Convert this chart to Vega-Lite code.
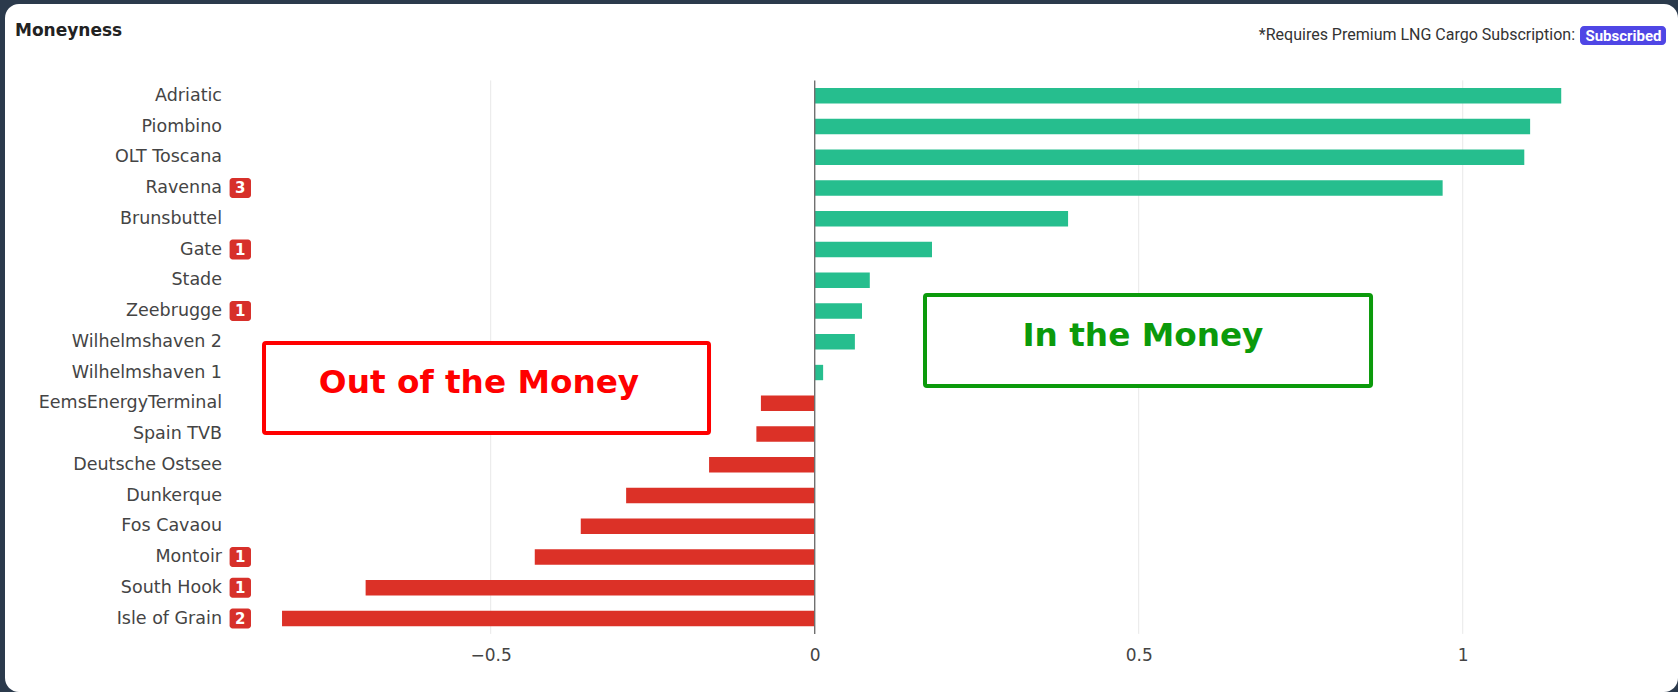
{
  "$schema": "https://vega.github.io/schema/vega-lite/v6.json",
  "width": 1673,
  "height": 688,
  "autosize": {"type": "none"},
  "padding": {"left": 5, "top": 4, "right": 0, "bottom": 0},
  "background": "#2b3a4c",
  "config": {"view": {"fill": "#ffffff", "stroke": null, "cornerRadius": 14}},
  "data": {"values": [
    {"name": "Adriatic", "value": 1.152},
    {"name": "Piombino", "value": 1.104},
    {"name": "OLT Toscana", "value": 1.095},
    {"name": "Ravenna", "value": 0.969, "badge": 3},
    {"name": "Brunsbuttel", "value": 0.391},
    {"name": "Gate", "value": 0.181, "badge": 1},
    {"name": "Stade", "value": 0.085},
    {"name": "Zeebrugge", "value": 0.073, "badge": 1},
    {"name": "Wilhelmshaven 2", "value": 0.062},
    {"name": "Wilhelmshaven 1", "value": 0.013},
    {"name": "EemsEnergyTerminal", "value": -0.083},
    {"name": "Spain TVB", "value": -0.09},
    {"name": "Deutsche Ostsee", "value": -0.163},
    {"name": "Dunkerque", "value": -0.291},
    {"name": "Fos Cavaou", "value": -0.361},
    {"name": "Montoir", "value": -0.432, "badge": 1},
    {"name": "South Hook", "value": -0.693, "badge": 1},
    {"name": "Isle of Grain", "value": -0.822, "badge": 2}
  ]},
  "layer": [
    {
      "transform": [{"filter": "datum.name === 'Adriatic'"}],
      "mark": {"type": "rule", "color": "#e8e8e8", "strokeWidth": 1},
      "encoding": {
        "x": {"datum": -0.5, "type": "quantitative"},
        "y": {"field": "name", "type": "nominal", "bandPosition": -0.5, "sort": {"field": "value", "op": "max", "order": "descending"}},
        "y2": {"field": "name", "bandPosition": 35.5}
      }
    },
    {
      "transform": [{"filter": "datum.name === 'Adriatic'"}],
      "mark": {"type": "rule", "color": "#e8e8e8", "strokeWidth": 1},
      "encoding": {
        "x": {"datum": 0.5, "type": "quantitative"},
        "y": {"field": "name", "type": "nominal", "bandPosition": -0.5, "sort": {"field": "value", "op": "max", "order": "descending"}},
        "y2": {"field": "name", "bandPosition": 35.5}
      }
    },
    {
      "transform": [{"filter": "datum.name === 'Adriatic'"}],
      "mark": {"type": "rule", "color": "#e8e8e8", "strokeWidth": 1},
      "encoding": {
        "x": {"datum": 1, "type": "quantitative"},
        "y": {"field": "name", "type": "nominal", "bandPosition": -0.5, "sort": {"field": "value", "op": "max", "order": "descending"}},
        "y2": {"field": "name", "bandPosition": 35.5}
      }
    },
    {
      "mark": {"type": "bar"},
      "encoding": {
        "x": {
          "field": "value", "type": "quantitative",
          "scale": {"domain": [-1.2495, 1.3322], "nice": false, "zero": false},
          "axis": {
            "values": [-0.5, 0, 0.5, 1], "format": "~g", "title": null,
            "grid": false, "domain": false, "ticks": false, "tickSize": 0,
            "labelPadding": 0, "offset": -37, "labelBaseline": "middle", "labelFlush": false,
            "labelFont": "DejaVu Sans", "labelFontSize": 17, "labelColor": "#444444"
          }
        },
        "y": {
          "field": "name", "type": "nominal",
          "sort": {"field": "value", "op": "max", "order": "descending"},
          "scale": {"range": [84.1, 622.2], "paddingInner": 0.5, "paddingOuter": 0},
          "axis": {
            "title": null, "domain": false, "ticks": false, "tickSize": 0, "grid": false,
            "labelPadding": 0, "offset": -216.5, "labelLimit": 0,
            "labelFont": "DejaVu Sans", "labelFontSize": 17.5, "labelColor": "#444444"
          }
        },
        "color": {"condition": {"test": "datum.value >= 0", "value": "#26be8e"}, "value": "#dc3127"}
      }
    },
    {
      "transform": [{"filter": "datum.name === 'Adriatic'"}],
      "mark": {"type": "rule", "color": "#707070", "strokeWidth": 1.4},
      "encoding": {
        "x": {"datum": 0, "type": "quantitative"},
        "y": {"field": "name", "type": "nominal", "bandPosition": -0.5, "sort": {"field": "value", "op": "max", "order": "descending"}},
        "y2": {"field": "name", "bandPosition": 35.5}
      }
    },
    {
      "transform": [{"filter": "datum.badge != null"}],
      "mark": {"type": "rect", "fill": "#d7302a", "cornerRadius": 3},
      "encoding": {
        "x": {"datum": -0.9029, "type": "quantitative"},
        "x2": {"datum": -0.8699},
        "y": {"field": "name", "type": "nominal", "bandPosition": -0.15, "sort": {"field": "value", "op": "max", "order": "descending"}},
        "y2": {"field": "name", "bandPosition": 1.15}
      }
    },
    {
      "transform": [{"filter": "datum.badge != null"}],
      "mark": {"type": "text", "color": "#ffffff", "font": "DejaVu Sans", "fontWeight": "bold", "fontSize": 15, "align": "center", "baseline": "middle"},
      "encoding": {
        "x": {"datum": -0.8864, "type": "quantitative"},
        "y": {"field": "name", "type": "nominal", "bandPosition": 0.5, "sort": {"field": "value", "op": "max", "order": "descending"}},
        "text": {"field": "badge", "type": "nominal"}
      }
    },
    {
      "transform": [{"filter": "datum.name === 'Wilhelmshaven 2'"}],
      "mark": {"type": "rect", "fill": "#ffffff", "stroke": "#ff0000", "strokeWidth": 4, "cornerRadius": 2},
      "encoding": {
        "x": {"datum": -0.8498, "type": "quantitative"},
        "x2": {"datum": -0.1631},
        "y": {"field": "name", "type": "nominal", "bandPosition": 0.579, "sort": {"field": "value", "op": "max", "order": "descending"}},
        "y2": {"field": "name", "bandPosition": 6.433}
      }
    },
    {
      "transform": [{"filter": "datum.name === 'EemsEnergyTerminal'"}],
      "mark": {"type": "text", "text": "Out of the Money", "color": "#ff0000", "font": "DejaVu Sans", "fontWeight": "bold", "fontSize": 32.7, "align": "center", "baseline": "alphabetic"},
      "encoding": {
        "x": {"datum": -0.518, "type": "quantitative"},
        "y": {"field": "name", "type": "nominal", "bandPosition": -0.189, "sort": {"field": "value", "op": "max", "order": "descending"}}
      }
    },
    {
      "transform": [{"filter": "datum.name === 'Zeebrugge'"}],
      "mark": {"type": "rect", "fill": "#ffffff", "stroke": "#0b9a0b", "strokeWidth": 4, "cornerRadius": 2},
      "encoding": {
        "x": {"datum": 0.1702, "type": "quantitative"},
        "x2": {"datum": 0.8585},
        "y": {"field": "name", "type": "nominal", "bandPosition": -0.543, "sort": {"field": "value", "op": "max", "order": "descending"}},
        "y2": {"field": "name", "bandPosition": 5.376}
      }
    },
    {
      "transform": [{"filter": "datum.name === 'Wilhelmshaven 2'"}],
      "mark": {"type": "text", "text": "In the Money", "color": "#0b9a0b", "font": "DejaVu Sans", "fontWeight": "bold", "fontSize": 32.7, "align": "center", "baseline": "alphabetic"},
      "encoding": {
        "x": {"datum": 0.5065, "type": "quantitative"},
        "y": {"field": "name", "type": "nominal", "bandPosition": 0.774, "sort": {"field": "value", "op": "max", "order": "descending"}}
      }
    },
    {
      "transform": [{"filter": "datum.name === 'Adriatic'"}],
      "mark": {"type": "text", "text": "Moneyness", "color": "#222222", "font": "DejaVu Sans", "fontWeight": "bold", "fontSize": 17, "align": "left", "baseline": "alphabetic"},
      "encoding": {
        "x": {"datum": -1.2341, "type": "quantitative"},
        "y": {"field": "name", "type": "nominal", "bandPosition": -3.389, "sort": {"field": "value", "op": "max", "order": "descending"}}
      }
    },
    {
      "transform": [{"filter": "datum.name === 'Adriatic'"}],
      "mark": {"type": "text", "text": "*Requires Premium LNG Cargo Subscription:", "color": "#333333", "font": "Roboto", "fontSize": 16, "align": "right", "baseline": "alphabetic"},
      "encoding": {
        "x": {"datum": 1.1733, "type": "quantitative"},
        "y": {"field": "name", "type": "nominal", "bandPosition": -3.115, "sort": {"field": "value", "op": "max", "order": "descending"}}
      }
    },
    {
      "transform": [{"filter": "datum.name === 'Adriatic'"}],
      "mark": {"type": "rect", "fill": "#4f46e5", "cornerRadius": 4},
      "encoding": {
        "x": {"datum": 1.181, "type": "quantitative"},
        "x2": {"datum": 1.3137},
        "y": {"field": "name", "type": "nominal", "bandPosition": -4.039, "sort": {"field": "value", "op": "max", "order": "descending"}},
        "y2": {"field": "name", "bandPosition": -2.803}
      }
    },
    {
      "transform": [{"filter": "datum.name === 'Adriatic'"}],
      "mark": {"type": "text", "text": "Subscribed", "color": "#ffffff", "font": "Roboto", "fontWeight": "bold", "fontSize": 15, "align": "center", "baseline": "alphabetic"},
      "encoding": {
        "x": {"datum": 1.248, "type": "quantitative"},
        "y": {"field": "name", "type": "nominal", "bandPosition": -3.076, "sort": {"field": "value", "op": "max", "order": "descending"}}
      }
    }
  ]
}
